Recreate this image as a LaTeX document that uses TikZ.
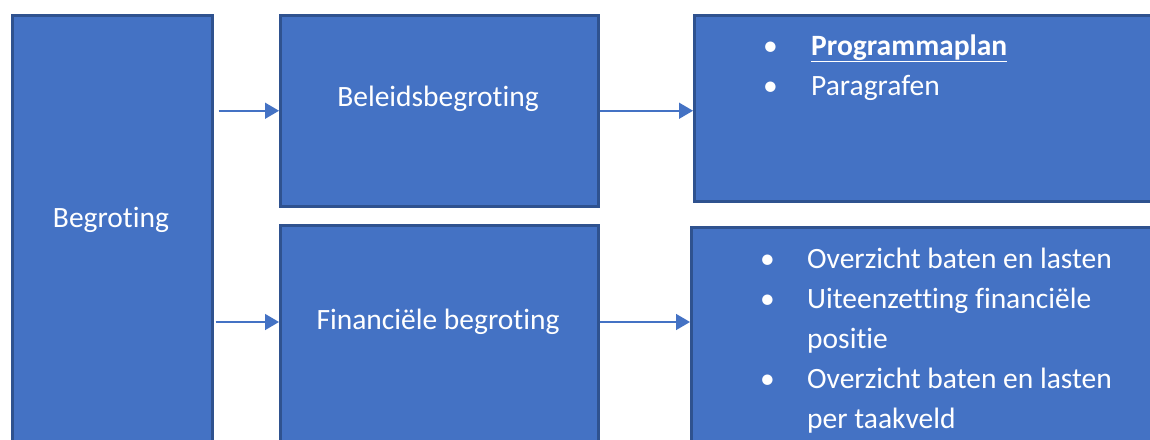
\documentclass[tikz,border=0pt]{standalone}
\usepackage{fontspec}
\setmainfont[RawFeature=-liga]{Carlito}
\usetikzlibrary{arrows.meta,positioning}
\definecolor{boxblue}{HTML}{4472C4}
\definecolor{boxedge}{HTML}{2F528F}
\tikzset{
  blok/.style={draw=boxedge, fill=boxblue, line width=2.5pt, anchor=north west, inner sep=0pt},
  boxtext/.style={text=white, font=\fontsize{29.5}{40}\selectfont},
  lijst/.style={boxtext, anchor=north west, inner sep=0pt, align=left},
  pijl/.style={draw=boxblue, line width=1.5pt, -{Triangle[length=14pt,width=16pt]}}
}
\begin{document}
\begin{tikzpicture}[x=1pt,y=-1pt]
\useasboundingbox (0,0) rectangle (1150,439);
\fill[white] (0,0) rectangle (1150,439);
\clip (0,0) rectangle (1150,439);

% Boxes
\node[blok, minimum width=200pt, minimum height=440pt] (begroting) at (11,14) {};
\node[blok, minimum width=318pt, minimum height=191pt] (beleid) at (279,14) {};
\node[blok, minimum width=318pt, minimum height=230pt] (financieel) at (279,224) {};
\node[blok, minimum width=470pt, minimum height=186pt] (plan) at (693,14) {};
\node[blok, minimum width=470pt, minimum height=230pt] (overzicht) at (690,226) {};

% Box texts
\node[boxtext] (begrotingtxt) at (111,220) {Begroting};
\node[boxtext] (beleidtxt) at (438,99) {Beleidsbegroting};
\node[boxtext] (financieeltxt) at (438,322) {Financiële begroting};

% Lists
\node[lijst] (plantxt) at (763,27) {%
  \begin{tabular}{@{}p{48pt}@{}l@{}}
  \textbullet & \underline{\textbf{Programmaplan}}\\
  \textbullet & Paragrafen
  \end{tabular}};
\node[lijst] (overzichttxt) at (760,240) {%
  \begin{tabular}{@{}p{47pt}@{}l@{}}
  \textbullet & Overzicht baten en lasten\\
  \textbullet & Uiteenzetting financiële\\
              & positie\\
  \textbullet & Overzicht baten en lasten\\
              & per taakveld
  \end{tabular}};

% Arrows
\draw[pijl] ([xshift=5pt]begroting.east |- beleid.west) -- (beleid.west);
\draw[pijl] (beleid.east) -- (beleid.east -| plan.west);
\draw[pijl] ([xshift=2pt]begroting.east |- financieeltxt) -- (financieel.west |- financieeltxt);
\draw[pijl] (financieeltxt -| financieel.east) -- (financieeltxt -| overzicht.west);
\end{tikzpicture}
\end{document}
